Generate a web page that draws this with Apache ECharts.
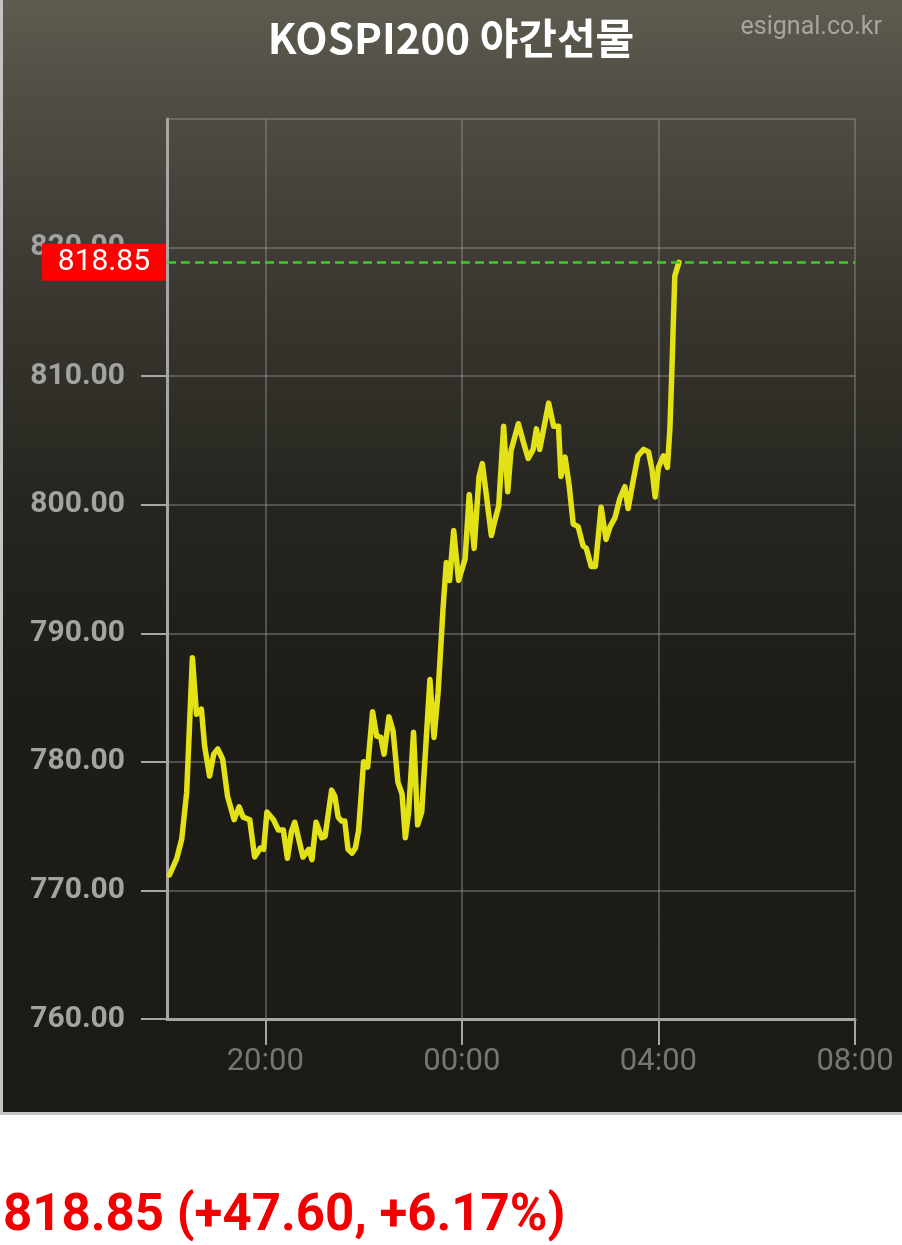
<!DOCTYPE html>
<html><head><meta charset="utf-8">
<script src="https://cdn.jsdelivr.net/npm/echarts@6/dist/echarts.min.js"></script>
<style>html,body{margin:0;padding:0;background:#fff}#c{width:902px;height:1245px}</style>
</head><body><div id="c"></div>
<script>
const titleText = 'KOSPI200 야간선물';
const sourceText = 'esignal.co.kr';
const summaryText = '818.85 (+47.60, +6.17%)';
const lastValue = 818.85;

const times = ['18:03','18:12','18:18','18:24','18:31','18:36','18:42','18:46','18:52','18:57',
 '19:02','19:08','19:14','19:22','19:28','19:33','19:41','19:47','19:54','19:58',
 '20:02','20:10','20:16','20:22','20:27','20:32','20:36','20:46','20:53','20:57',
 '21:02','21:09','21:13','21:21','21:25','21:29','21:33','21:37','21:41','21:46','21:50','21:54',
 '22:00','22:05','22:07','22:11','22:16','22:21','22:25','22:31','22:36','22:42','22:47','22:51','22:55',
 '23:01','23:06','23:11','23:21','23:26','23:31','23:37','23:41','23:45','23:50','23:56',
 '00:04','00:09','00:15','00:21','00:25','00:30','00:36','00:40','00:45','00:51','00:56',
 '01:00','01:09','01:15','01:21','01:27','01:31','01:35','01:46','01:52','01:58',
 '02:01','02:06','02:11','02:16','02:22','02:28','02:32','02:38','02:43','02:50','02:56',
 '03:01','03:07','03:13','03:19','03:23','03:29','03:35','03:42','03:48','03:52','03:56',
 '04:00','04:06','04:11','04:14','04:16','04:20','04:25'];
const values = [771.2,772.5,774.0,777.6,788.1,783.7,784.1,781.2,778.9,780.6,
 781.0,780.2,777.3,775.5,776.5,775.7,775.5,772.6,773.3,773.2,
 776.1,775.5,774.7,774.7,772.5,774.6,775.3,772.6,773.2,772.4,
 775.3,774.1,774.2,777.8,777.3,775.7,775.4,775.4,773.2,772.9,773.3,774.7,
 780.0,779.6,779.7,783.9,782.0,781.9,780.6,783.5,782.4,778.4,777.5,774.1,776.1,
 782.3,775.1,776.1,786.4,781.9,785.4,791.9,795.5,794.1,798.0,794.1,
 795.8,800.8,796.6,802.2,803.2,800.7,797.6,798.7,799.9,806.1,801.0,
 804.2,806.3,804.9,803.6,804.3,805.9,804.3,807.9,806.1,806.1,
 802.2,803.7,801.5,798.5,798.3,796.8,796.6,795.2,795.2,799.8,797.3,
 798.3,799.0,800.5,801.4,799.7,801.8,803.8,804.3,804.1,802.8,800.6,
 802.9,803.8,802.9,805.9,809.6,817.8,818.85];

const xTickMinutes = [120, 360, 600, 840];
const xTickLabels = ['20:00','00:00','04:00','08:00'];
const yMin = 760, yMax = 830, yStep = 10;

function toMin(t){ const p = t.split(':').map(Number); return ((p[0] < 18 ? p[0] + 24 : p[0]) * 60 + p[1]) - 18 * 60; }
const seriesData = times.map((t, i) => [toMin(t), values[i]]);

const gridColor = 'rgba(150,150,150,0.42)';
const axisColor = '#a6a6a6';

const chart = echarts.init(document.getElementById('c'), null, {renderer: 'canvas'});
chart.setOption({
  animation: false,
  backgroundColor: new echarts.graphic.LinearGradient(0, 0, 0, 1, [
    {offset: 0, color: '#5e5b50'},
    {offset: 0.096, color: '#4d4b42'},
    {offset: 0.24, color: '#39372f'},
    {offset: 0.40, color: '#26251f'},
    {offset: 0.56, color: '#1d1c17'},
    {offset: 0.893, color: '#1b1a15'},
    {offset: 0.8935, color: '#ffffff'},
    {offset: 1, color: '#ffffff'}
  ]),
  title: {
    text: titleText, left: 'center', top: 12,
    textStyle: {color: '#ffffff', fontSize: 42, fontWeight: 'bold', fontFamily: '"Noto Sans CJK KR", Roboto, sans-serif'}
  },
  graphic: [
    {type: 'line', z: 100, silent: true, shape: {x1: 1.5, y1: 0, x2: 1.5, y2: 1114}, style: {stroke: '#c4c4c4', lineWidth: 3}},
    {type: 'line', z: 100, silent: true, shape: {x1: 0, y1: 1113.5, x2: 902, y2: 1113.5}, style: {stroke: '#c4c4c4', lineWidth: 3}},
    {type: 'text', z: 100, right: 20, top: 15, style: {text: sourceText, fill: '#a8a69c', font: '25px Roboto'}},
    {type: 'text', z: 100, left: 3, top: 1192, style: {text: summaryText, fill: '#f00000', font: 'bold 51px Roboto'}}
  ],
  grid: {left: 167, right: 47, top: 119, bottom: 226, containLabel: false},
  xAxis: {
    type: 'value', min: 0, max: 840,
    axisLine: {show: true, lineStyle: {color: axisColor, width: 3}},
    axisTick: {show: true, customValues: xTickMinutes, length: 26, lineStyle: {color: axisColor, width: 2}},
    axisLabel: {customValues: xTickMinutes, formatter: v => xTickLabels[xTickMinutes.indexOf(v)] || '',
      color: '#767676', fontSize: 31, fontFamily: 'Roboto', margin: 28},
    splitLine: {show: false}
  },
  yAxis: {
    type: 'value', min: yMin, max: yMax, interval: yStep,
    axisLine: {show: true, lineStyle: {color: axisColor, width: 3}},
    axisTick: {show: true, length: 26, lineStyle: {color: axisColor, width: 2}},
    axisLabel: {showMaxLabel: false, formatter: v => v.toFixed(2), color: '#a3a3a3', fontSize: 30,
      fontWeight: 'bold', fontFamily: 'Roboto', margin: 42},
    splitLine: {show: true, lineStyle: {color: gridColor, width: 2}}
  },
  series: [
    {
      type: 'line', data: [], z: 1, silent: true,
      markLine: {silent: true, symbol: 'none', z: 1, label: {show: false},
        lineStyle: {color: gridColor, width: 2, type: 'solid'},
        data: xTickMinutes.map(v => ({xAxis: v}))}
    },
    {
      type: 'line', data: seriesData, showSymbol: false, symbol: 'none', z: 3,
      lineStyle: {color: '#e2e216', width: 5.5, join: 'round', cap: 'round'},
      markLine: {
        silent: true, symbol: 'none', z: 4,
        data: [{yAxis: lastValue}],
        lineStyle: {color: '#38d025', width: 2.5, type: [9, 5]},
        label: {show: true, position: 'start', distance: 1, formatter: () => lastValue.toFixed(2),
          color: '#ffffff', backgroundColor: '#ff0000', fontSize: 30, fontFamily: 'Roboto',
          padding: [4, 16, 3, 16], lineHeight: 30}
      }
    }
  ]
});
</script></body></html>
